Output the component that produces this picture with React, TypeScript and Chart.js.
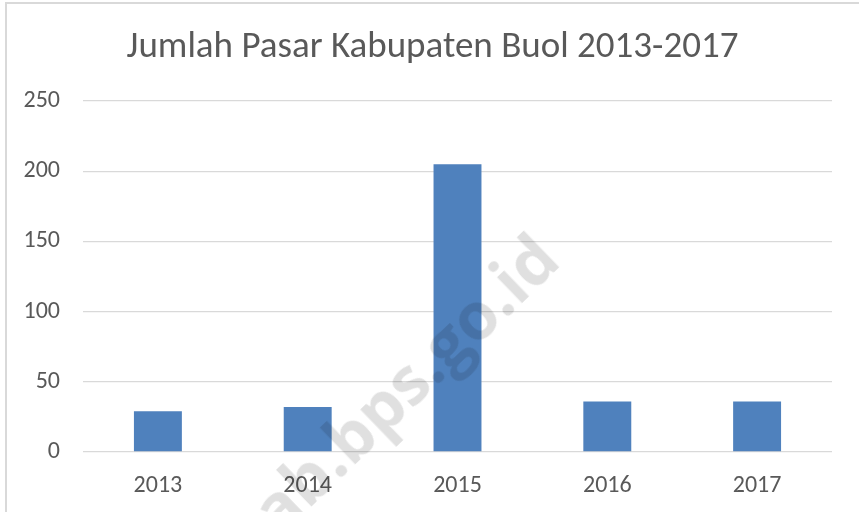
import React, { useEffect, useRef } from "react";
import { Chart, registerables } from "chart.js";

Chart.register(...registerables);

const categories: string[] = ["2013", "2014", "2015", "2016", "2017"];
const jumlahPasar: number[] = [29, 32, 205, 36, 36];
const yTicks: number[] = [0, 50, 100, 150, 200, 250];
const titleText = "Jumlah Pasar Kabupaten Buol 2013-2017";
const watermarkText = "ab.bps.go.id";

const FONT = "Carlito, Calibri, 'Open Sans', sans-serif";

export default function App() {
  const canvasRef = useRef<HTMLCanvasElement | null>(null);

  useEffect(() => {
    document.body.style.margin = "0";
    const canvas = canvasRef.current;
    if (!canvas) return;
    const chart = new Chart(canvas, {
      type: "bar",
      data: {
        labels: categories,
        datasets: [
          {
            label: "Jumlah Pasar",
            data: jumlahPasar,
            backgroundColor: "#4f81bd",
            borderWidth: 0,
            categoryPercentage: 1,
            barPercentage: 0.32,
          },
        ],
      },
      options: {
        animation: false,
        responsive: false,
        maintainAspectRatio: false,
        devicePixelRatio: 1,
        layout: { padding: { left: 6, right: 0, top: 0, bottom: 13 } },
        plugins: {
          legend: { display: false },
          tooltip: { enabled: false },
          title: {
            display: true,
            text: titleText,
            color: "#595959",
            font: { family: FONT, size: 37, weight: "normal", lineHeight: 1.2 },
            padding: { top: 26, bottom: 30.6 },
          },
        },
        scales: {
          x: {
            afterFit: (scale: any) => {
              scale.height = 47;
            },
            grid: { display: false, drawTicks: false },
            border: { display: false },
            ticks: {
              color: "#595959",
              font: { family: FONT, size: 24, lineHeight: 1.2 },
              padding: 20,
              maxRotation: 0,
            },
          },
          y: {
            position: "left",
            min: yTicks[0],
            max: yTicks[yTicks.length - 1],
            afterBuildTicks: (scale: any) => {
              scale.ticks = yTicks.map((v) => ({ value: v }));
            },
            afterFit: (scale: any) => {
              scale.width = 77;
            },
            grid: { color: "#d9d9d9", lineWidth: 1.3, drawTicks: false },
            border: { display: false },
            ticks: {
              color: "#595959",
              font: { family: FONT, size: 24, lineHeight: 1.2 },
              padding: 23,
            },
          },
          yRightSpace: {
            type: "linear",
            position: "right",
            display: true,
            afterFit: (scale: any) => {
              scale.width = 27;
            },
            grid: { display: false, drawTicks: false },
            border: { display: false },
            ticks: { display: false },
          },
        },
      },
    });
    return () => chart.destroy();
  }, []);

  return (
    <div
      style={{
        position: "fixed",
        left: 0,
        top: 0,
        width: 859,
        height: 512,
        overflow: "hidden",
        background: "#ffffff",
      }}
    >
      <div
        style={{
          position: "absolute",
          left: 5,
          top: 2,
          width: 1000,
          height: 1000,
          borderLeft: "2px solid #d9d9d9",
          borderTop: "2px solid #d9d9d9",
          boxSizing: "border-box",
        }}
      />
      <canvas
        ref={canvasRef}
        width={859}
        height={512}
        style={{ position: "absolute", left: 0, top: 0, width: 859, height: 512 }}
      />
      <div
        style={{
          position: "absolute",
          left: 403,
          top: 382,
          transform: "translate(-50%, -50%) rotate(-44deg)",
          fontFamily: "'Open Sans', sans-serif",
          fontWeight: 700,
          fontSize: 66,
          lineHeight: 1,
          whiteSpace: "nowrap",
          color: "rgba(0,0,0,0.12)",
          pointerEvents: "none",
        }}
      >
        {watermarkText}
      </div>
    </div>
  );
}
